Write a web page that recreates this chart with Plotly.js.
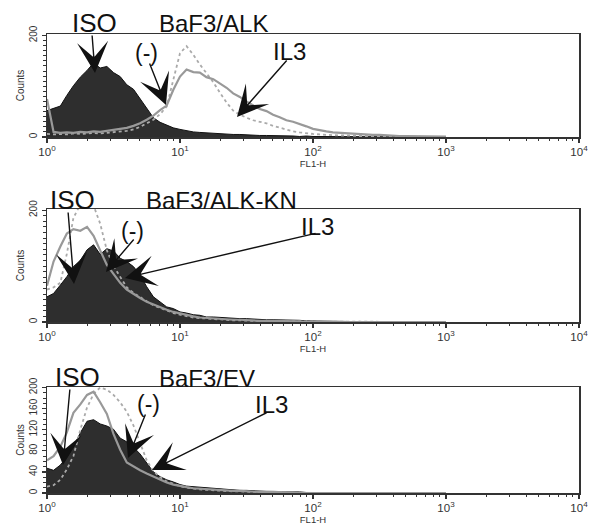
<!DOCTYPE html>
<html>
<head>
<meta charset="utf-8">
<script src="https://cdn.plot.ly/plotly-3.0.1.min.js"></script>
<style>html,body{margin:0;padding:0;background:#fff;}#chart{width:590px;height:525px;}</style>
</head>
<body>
<div id="chart"></div>
<script>
// FL1-H channel centres (log spaced bins)
var fl1 = [1.00,1.12,1.26,1.41,1.58,1.78,2.00,2.24,2.51,2.82,
  3.16,3.55,3.98,4.47,5.01,5.62,6.31,7.08,7.94,8.91,
  10.0,11.2,12.6,14.1,15.8,17.8,20.0,22.4,25.1,28.2,
  31.6,35.5,39.8,44.7,50.1,56.2,63.1,70.8,79.4,89.1,
  100,112,126,141,158,178,200,224,251,282,
  316,355,398,447,501,562,631,708,794,891,1000];

// Panel 1: BaF3/ALK
var alkIso = [52,57,61,82,101,118,131,146,136,139, 127,119,103,94,76,57,38,29,23,18,
  15,12,10,9,8,7,7,6,5,5, 4,4,3,3,3,2,2,2,1,2, 1,1,1,1,1,0,1,0,0,0, 0,0,0,0,0,0,0,0,0,0,0];
var alkNeg = [75,10,8,9,8,10,9,11,10,12, 13,15,18,22,27,34,42,53,62,93,
  119,133,128,127,118,114,106,97,86,79, 70,63,55,51,44,39,33,30,26,21,
  16,13,11,9,8,7,6,5,5,4, 4,3,3,2,2,2,1,2,1,1,1];
var alkIL3 = [6,5,6,5,7,6,7,8,7,8, 9,10,12,15,20,27,34,45,60,113,
  165,179,162,143,126,108,87,68,52,44, 38,33,30,27,22,18,14,11,9,7,
  6,5,4,4,3,3,2,2,2,1, 1,1,1,1,0,0,0,0,0,0,0];

// Panel 2: BaF3/ALK-KN
var knIso = [45,51,66,81,99,110,129,138,121,131, 127,114,108,99,84,63,45,36,27,24,
  18,16,13,12,9,9,8,8,7,6, 6,5,5,4,4,4,3,3,3,2, 2,2,1,1,1,1,0,1,0,0, 0,0,0,0,0,0,0,0,0,0,0];
var knNeg = [65,108,135,158,166,163,170,154,128,102, 86,70,58,50,43,36,31,26,22,18,
  15,12,10,8,7,6,5,5,4,4, 3,3,2,2,2,1,1,1,1,0, 0,0,0,0,0,0,0,0,0,0, 0,0,0,0,0,0,0,0,0,0,0];
var knIL3 = [58,62,70,122,186,210,212,208,176,128, 100,80,62,52,44,37,30,25,20,16,
  13,10,8,7,6,5,4,4,3,3, 2,2,2,1,1,1,1,0,0,0, 0,0,0,0,0,0,0,0,0,0, 0,0,0,0,0,0,0,0,0,0,0];

// Panel 3: BaF3/EV
var evIso = [47,43,53,68,88,114,136,139,131,127, 121,104,97,87,74,56,40,31,25,21,
  16,13,12,10,9,8,7,7,6,5, 5,4,4,3,3,3,2,2,2,1, 1,1,1,1,0,1,0,0,0,0, 0,0,0,0,0,0,0,0,0,0,0];
var evNeg = [62,70,88,115,152,168,186,192,172,150, 112,82,58,50,43,37,31,25,20,16,
  13,11,9,8,7,6,5,5,4,4, 3,3,2,2,2,1,1,1,0,0, 0,0,0,0,0,0,0,0,0,0, 0,0,0,0,0,0,0,0,0,0,0];
var evIL3 = [12,15,25,45,70,120,162,188,200,196, 186,172,154,128,95,62,41,30,22,17,
  13,10,8,7,6,5,4,4,3,3, 2,2,2,1,1,1,0,0,0,0, 0,0,0,0,0,0,0,0,0,0, 0,0,0,0,0,0,0,0,0,0,0];

var panelTitles = ["BaF3/ALK", "BaF3/ALK-KN", "BaF3/EV"];
var xTickVals = [1, 10, 100, 1000, 10000];
var xTickText = ["10<sup>0</sup>", "10<sup>1</sup>", "10<sup>2</sup>", "10<sup>3</sup>", "10<sup>4</sup>"];
var xMinorVals = [2,3,4,5,6,7,8,9,20,30,40,50,60,70,80,90,200,300,400,500,600,700,800,900,2000,3000,4000,5000,6000,7000,8000,9000];
var yTicks12 = [0, 200];
var yTicks3 = [0, 40, 80, 120, 160, 200];

var panels = [
  {iso: alkIso, neg: alkNeg, il3: alkIL3},
  {iso: knIso, neg: knNeg, il3: knIL3},
  {iso: evIso, neg: evNeg, il3: evIL3}
];

var traces = [];
panels.forEach(function(p, k) {
  var xa = k === 0 ? 'x' : 'x' + (k + 1);
  var ya = k === 0 ? 'y' : 'y' + (k + 1);
  traces.push({x: fl1, y: p.iso, xaxis: xa, yaxis: ya, type: 'scatter', mode: 'lines',
    fill: 'tozeroy', fillcolor: '#2e2e2e', line: {color: '#111', width: 1}, name: 'ISO'});
  traces.push({x: fl1, y: p.il3, xaxis: xa, yaxis: ya, type: 'scatter', mode: 'lines',
    line: {color: '#aaaaaa', width: 1.8, dash: 'dot'}, name: 'IL3'});
  traces.push({x: fl1, y: p.neg, xaxis: xa, yaxis: ya, type: 'scatter', mode: 'lines',
    line: {color: '#999999', width: 2.2}, name: '(-)'});
});

function px(x) { return x / 590; }
function py(y) { return 1 - y / 525; }

function xAxis(d0, d1, anchor) {
  return {
    type: 'log', range: [0, 4], domain: [d0, d1], anchor: anchor,
    tickmode: 'array', tickvals: xTickVals, ticktext: xTickText,
    ticks: 'outside', ticklen: 4, tickwidth: 1.2, tickcolor: '#333',
    minor: {tickmode: 'array', tickvals: xMinorVals, ticks: 'outside', ticklen: 2.5, tickwidth: 1, tickcolor: '#333'},
    showline: true, mirror: true, linecolor: '#333', linewidth: 1.5,
    showgrid: false, zeroline: false,
    tickfont: {size: 11.5, color: '#333'},
    title: {text: 'FL1-H', font: {size: 9.5, color: '#333'}, standoff: 1}
  };
}
function yAxis(d0, d1, anchor, top, ticks) {
  return {
    range: [0, top], domain: [d0, d1], anchor: anchor,
    tickmode: 'array', tickvals: ticks, tickangle: -90,
    ticks: 'outside', ticklen: 4, tickwidth: 1.2, tickcolor: '#333',
    minor: {dtick: 10, ticks: 'outside', ticklen: 2.5, tickwidth: 1, tickcolor: '#333'},
    showline: true, mirror: true, linecolor: '#333', linewidth: 1.5,
    showgrid: false, zeroline: false,
    tickfont: {size: 10, color: '#333'}, ticklabelstandoff: 1,
    title: {text: 'Counts', font: {size: 10, color: '#333'}, standoff: 1}
  };
}

function label(text, x, y, size) {
  return {text: text, xref: 'paper', yref: 'paper', x: px(x), y: py(y),
    xanchor: 'center', yanchor: 'middle', showarrow: false,
    font: {size: size, color: '#111', family: 'Liberation Sans, Arial, sans-serif'}};
}
function arrow(tailX, tailY, tipX, tipY) {
  return {text: '', xref: 'paper', yref: 'paper', x: px(tipX), y: py(tipY),
    ax: tailX - tipX, ay: tailY - tipY, showarrow: true,
    arrowhead: 3, arrowsize: 3.7, arrowwidth: 1.4, arrowcolor: '#111'};
}

var annotations = [
  label('ISO', 95, 23, 26), label(panelTitles[0], 213, 24, 24), label('(-)', 146, 53, 23), label('IL3', 289, 51, 24),
  arrow(92, 34, 95, 73), arrow(149, 62, 166, 105), arrow(288, 59, 237, 117),
  label('ISO', 72, 200, 26), label(panelTitles[1], 221, 201, 24), label('(-)', 132, 231, 23), label('IL3', 317, 226, 24),
  arrow(68, 211, 74, 284), arrow(135, 238, 106, 272), arrow(317, 233, 125, 278),
  label('ISO', 77, 377, 26), label(panelTitles[2], 207, 378, 24), label('(-)', 148, 404, 23), label('IL3', 271, 404, 24),
  arrow(70, 388, 63, 465), arrow(146, 413, 128, 458), arrow(268, 412, 152, 470)
];

var layout = {
  width: 590, height: 525,
  margin: {l: 0, r: 0, t: 0, b: 0},
  paper_bgcolor: '#fff', plot_bgcolor: '#fff',
  showlegend: false,
  font: {family: 'Liberation Sans, Arial, sans-serif', color: '#333'},
  xaxis: xAxis(px(47), px(579), 'y'),
  yaxis: yAxis(py(137), py(34), 'x', 203, yTicks12),
  xaxis2: xAxis(px(47), px(579), 'y2'),
  yaxis2: yAxis(py(322), py(209), 'x2', 202, yTicks12),
  xaxis3: xAxis(px(47), px(579), 'y3'),
  yaxis3: yAxis(py(493), py(387), 'x3', 201, yTicks3),
  annotations: annotations
};

Plotly.newPlot('chart', traces, layout, {staticPlot: true, displayModeBar: false});
</script>
</body>
</html>
